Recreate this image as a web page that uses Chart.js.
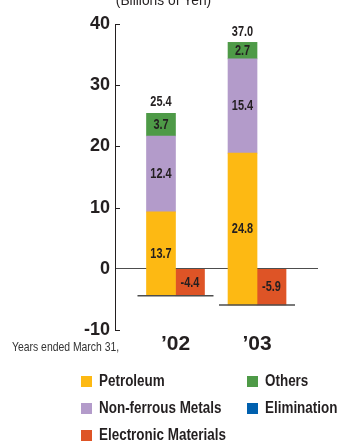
<!DOCTYPE html>
<html>
<head>
<meta charset="utf-8">
<script src="https://cdn.jsdelivr.net/npm/chart.js@4"></script>
<style>
  html, body { margin: 0; padding: 0; background: #fff; }
  #wrap { position: relative; width: 340px; height: 441px; overflow: hidden; }
  #legend { position: absolute; left: 0; top: 0; width: 340px; height: 441px; pointer-events: none; }
  .item { position: absolute; display: flex; align-items: center; height: 27px;
          font: bold 16px "Liberation Sans", Arial, sans-serif;
          color: #231f20; white-space: nowrap; }
  .box { width: 11px; height: 11px; margin-right: 7px; flex: none; }
  .txt { display: inline-block; transform: scaleX(0.84); transform-origin: left center; }
</style>
</head>
<body>
<div id="wrap">
  <canvas id="c" width="340" height="441"></canvas>
  <div id="legend"></div>
</div>
<script>
// Segment results by fiscal year (billions of yen)
const years = ['\u201902', '\u201903'];
const petroleum = [13.7, 24.8];
const nonFerrous = [12.4, 15.4];
const electronic = [-4.4, -5.9];
const others = [3.7, 2.7];
const elimination = [null, null];

const unitTitle = '(Billions of Yen)';
const yearNote = 'Years ended March 31,';

const INK = '#231f20';
const SANS = '"Liberation Sans", Arial, sans-serif';

// The positive stack starts at the negative segment, so its top lands on the net total.
const positiveSeries = [petroleum, nonFerrous, others];
const floating = positiveSeries.map(() => []);
years.forEach((_, i) => {
  let base = electronic[i];
  positiveSeries.forEach((s, k) => {
    floating[k].push({ x: i + 1, y: [base, base + s[i]] });
    base += s[i];
  });
});
const totals = years.map((_, i) => petroleum[i] + nonFerrous[i] + others[i] + electronic[i]);

const datasets = [
  { label: 'Petroleum', data: floating[0], values: petroleum, stack: 'pos', backgroundColor: '#fdb913' },
  { label: 'Non-ferrous Metals', data: floating[1], values: nonFerrous, stack: 'pos', backgroundColor: '#b39bca' },
  { label: 'Electronic Materials', data: years.map((_, i) => ({ x: i + 1, y: [0, electronic[i]] })), values: electronic, stack: 'neg', backgroundColor: '#de5426' },
  { label: 'Others', data: floating[2], values: others, stack: 'pos', backgroundColor: '#4e9a47', isTop: true },
  { label: 'Elimination', data: years.map((_, i) => ({ x: i + 1, y: elimination[i] })), values: elimination, stack: 'pos', backgroundColor: '#0060ae' }
];

// text squeezed horizontally for a condensed look
function narrowText(ctx, text, x, y, sx) {
  ctx.save();
  ctx.translate(x, y);
  ctx.scale(sx, 1);
  ctx.fillText(text, 0, 0);
  ctx.restore();
}

// Texts, inward tick marks, stack base rules and value labels
const decorations = {
  id: 'decorations',
  afterDatasetsDraw(chart) {
    const { ctx, chartArea, scales } = chart;
    ctx.save();

    // inward tick marks on the value axis
    ctx.strokeStyle = INK;
    ctx.lineWidth = 1;
    scales.y.ticks.forEach(t => {
      if (t.value === 0) return;
      const py = Math.round(scales.y.getPixelForValue(t.value)) + 0.5;
      ctx.beginPath();
      ctx.moveTo(chartArea.left, py);
      ctx.lineTo(chartArea.left + 5, py);
      ctx.stroke();
    });

    // base rule under each year's bars
    const posMeta = chart.getDatasetMeta(0);
    const negMeta = chart.getDatasetMeta(2);
    ctx.strokeStyle = '#4d4d4d';
    ctx.lineWidth = 1.5;
    years.forEach((_, i) => {
      const p = posMeta.data[i], n = negMeta.data[i];
      const yb = n.y;
      ctx.beginPath();
      ctx.moveTo(p.x - p.width / 2 - 9, yb);
      ctx.lineTo(n.x + n.width / 2 + 9, yb);
      ctx.stroke();
    });

    // value labels
    ctx.fillStyle = INK;
    ctx.font = 'bold 15px ' + SANS;
    ctx.textAlign = 'center';
    ctx.textBaseline = 'middle';
    chart.data.datasets.forEach((ds, di) => {
      const meta = chart.getDatasetMeta(di);
      ds.values.forEach((v, i) => {
        if (v === null) return;
        const el = meta.data[i];
        narrowText(ctx, v.toFixed(1), el.x, (el.y + el.base) / 2, 0.73);
        if (ds.isTop) {
          narrowText(ctx, totals[i].toFixed(1), el.x, Math.min(el.y, el.base) - 11, 0.73);
        }
      });
    });

    // unit caption and year note
    ctx.font = '15px ' + SANS;
    ctx.textBaseline = 'alphabetic';
    narrowText(ctx, unitTitle, 163.5, 5, 0.92);
    ctx.font = '13px ' + SANS;
    ctx.textAlign = 'left';
    ctx.textBaseline = 'middle';
    ctx.fillStyle = '#333';
    narrowText(ctx, yearNote, 12, 347, 0.8);
    ctx.restore();
  }
};

const chart = new Chart(document.getElementById('c'), {
  type: 'bar',
  data: { datasets },
  options: {
    responsive: false,
    animation: false,
    barThickness: 29,
    layout: { padding: { top: 24, right: 22, left: 0, bottom: 0 } },
    plugins: { legend: { display: false }, tooltip: { enabled: false }, title: { display: false } },
    scales: {
      x: {
        type: 'linear',
        min: 0.258,
        max: 2.748,
        bounds: 'data',
        offset: false,
        stacked: true,
        grid: { display: false, drawTicks: false, offset: false },
        border: { display: false },
        afterBuildTicks: s => { s.ticks = years.map((_, i) => ({ value: i + 1 })); },
        ticks: {
          callback: v => years[v - 1] ?? '',
          font: { family: SANS, size: 21, weight: 'bold' },
          color: INK,
          padding: 2,
          maxRotation: 0,
          autoSkip: false
        },
        afterFit: s => { s.height = 111; }
      },
      y: {
        min: -10,
        max: 40,
        stacked: false,
        ticks: {
          stepSize: 10,
          font: { family: SANS, size: 18, weight: 'bold' },
          color: INK,
          padding: 5
        },
        grid: {
          drawTicks: false,
          color: c => (c.tick && c.tick.value === 0) ? '#4d4d4d' : 'rgba(0,0,0,0)',
          lineWidth: 1
        },
        border: { display: true, color: INK, width: 1 },
        afterFit: s => { s.width = 115; }
      }
    }
  },
  plugins: [decorations]
});

// Legend in two columns built from the chart's own legend items
const items = chart.options.plugins.legend.labels.generateLabels(chart);
const legendEl = document.getElementById('legend');
items.forEach((it, k) => {
  const col = k < 3 ? 0 : 1;
  const row = k < 3 ? k : k - 3;
  const div = document.createElement('div');
  div.className = 'item';
  div.style.left = (col ? 247 : 81) + 'px';
  div.style.top = (381 - 13.5 + row * 27) + 'px';
  const box = document.createElement('span');
  box.className = 'box';
  box.style.background = it.fillStyle;
  const txt = document.createElement('span');
  txt.className = 'txt';
  txt.textContent = it.text;
  div.appendChild(box);
  div.appendChild(txt);
  legendEl.appendChild(div);
});
</script>
</body>
</html>
